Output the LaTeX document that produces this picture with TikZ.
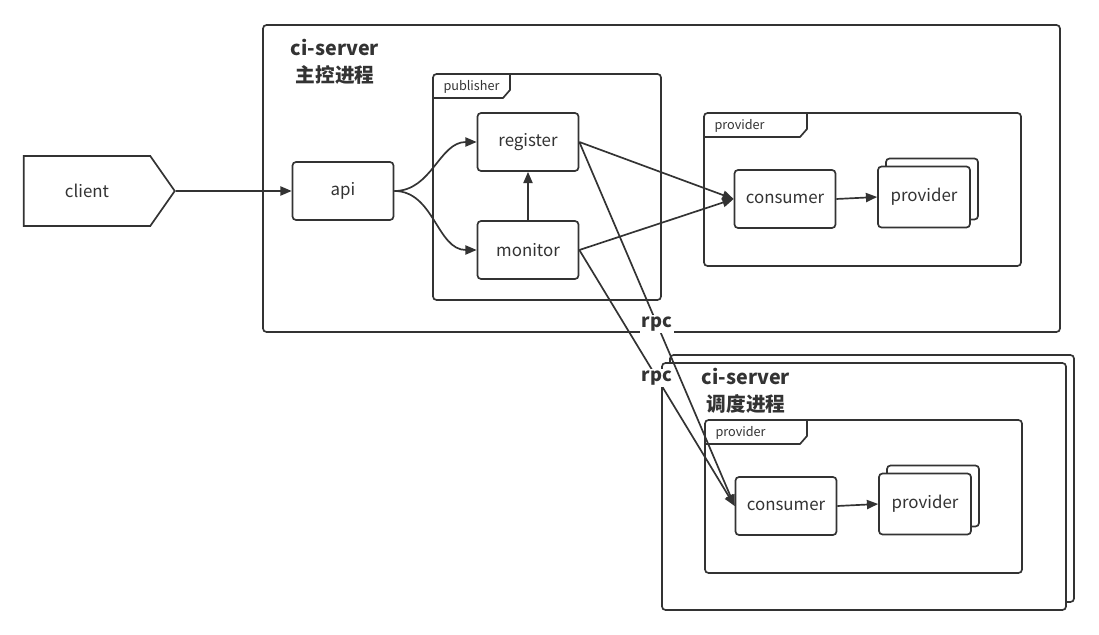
\documentclass[tikz,border=0pt]{standalone}
\usepackage{fontspec}
\setmainfont{Noto Sans CJK SC}
\usetikzlibrary{shapes.symbols, arrows.meta, shadows}
\newlength\pxu
\setlength\pxu{0.025cm}
\definecolor{ink}{HTML}{333333}

\begin{document}
\begin{tikzpicture}[
  x=0.025cm, y=-0.025cm, line width=1.2pt, color=ink,
  box/.style={draw, rounded corners=2.5pt, fill=white, minimum width=101\pxu, minimum height=58\pxu, font=\fontsize{12}{14}\selectfont},
  prov/.style={minimum width=92\pxu, minimum height=61\pxu, copy shadow={shadow xshift=8\pxu, shadow yshift=8\pxu}},
  frame/.style={draw, rounded corners=2.5pt},
  tab/.style={anchor=west, font=\fontsize{9}{10}\selectfont},
  title/.style={align=center, font=\fontsize{14}{19}\selectfont\bfseries},
  arr/.style={-{Triangle[length=8pt, width=6.5pt]}},
  rpc/.style={fill=white, inner sep=1pt, font=\fontsize{13}{14}\selectfont\bfseries}
]
  \useasboundingbox (0,0) rectangle (1099,635);

  % Main process frame
  \draw[frame] (263,25) rectangle (1060,332);
  \node[title] (title1) at (335,62) {ci-server\\主控进程};

  % publisher package
  \draw[frame] (433,74) rectangle (661,300);
  \draw (433,98) -- (503,98) -- (510,90) -- (510,74);
  \node[tab] (pubtab) at (438,87) {publisher};

  % provider package (main)
  \draw[frame] (704,113) rectangle (1021,266);
  \draw (704,137) -- (800,137) -- (807,129) -- (807,113);
  \node[tab] (provtab1) at (709,126) {provider};

  % Scheduler process frame (stacked)
  \draw[frame, fill=white] (670,355) rectangle (1074,602);
  \draw[frame, fill=white] (662,363) rectangle (1066,610);
  \node[title] (title2) at (746,391) {ci-server\\调度进程};

  % provider package (scheduler)
  \draw[frame] (705,420) rectangle (1022,573);
  \draw (705,444) -- (800,444) -- (807,436) -- (807,420);
  \node[tab] (provtab2) at (710,433) {provider};

  % Nodes
  \node[signal, draw, signal to=east, signal pointer angle=110, minimum width=151\pxu, minimum height=70\pxu, font=\fontsize{12}{14}\selectfont] (client) at (87,191) {client};
  \node[box] (api) at (343,191) {api};
  \node[box] (reg) at (528,142) {register};
  \node[box] (mon) at (528,250) {monitor};
  \node[box] (cons1) at (785,199) {consumer};
  \node[box, prov] (prov1) at (924,197) {provider};
  \node[box] (cons2) at (786,506) {consumer};
  \node[box, prov] (prov2) at (925,504) {provider};

  % Arrows
  \draw[arr] (client) -- (api);
  \draw[arr] (api.east) to[out=0, in=180] (reg.west);
  \draw[arr] (api.east) to[out=0, in=180] (mon.west);
  \draw[arr] (mon) -- (reg);
  \draw[arr] (reg.east) -- (cons1.west);
  \draw[arr] (mon.east) -- (cons1.west);
  \draw[arr] (cons1.east) -- (prov1.west);
  \draw[arr] (reg.east) -- node[rpc, pos=0.5] {rpc} (cons2.west);
  \draw[arr] (mon.east) -- node[rpc, pos=0.5] {rpc} (cons2.west);
  \draw[arr] (cons2.east) -- (prov2.west);
\end{tikzpicture}
\end{document}
